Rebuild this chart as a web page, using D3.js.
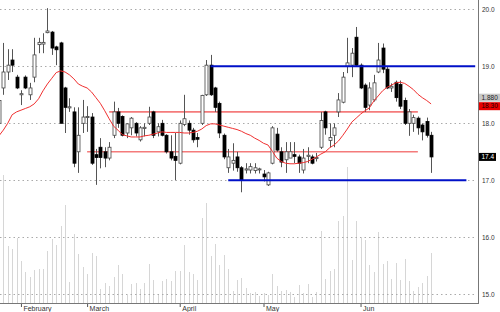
<!DOCTYPE html>
<html>
<head>
<meta charset="utf-8">
<script src="https://cdn.jsdelivr.net/npm/d3@7/dist/d3.min.js"></script>
<style>
  body { margin: 0; background: #fff; }
  svg { display: block; font-family: "Liberation Sans", Arial, sans-serif; }
</style>
</head>
<body>
<script>
// daily bars, index 0..98 (one per trading day)
var opens  = [18.00,18.62,18.90,19.11,18.81,18.50,18.81,18.50,18.81,19.38,19.39,19.59,19.60,19.34,19.41,18.62,18.27,18.20,17.50,18.00,
              18.10,18.11,17.45,17.58,17.50,17.39,17.79,18.20,18.12,17.83,17.92,18.00,17.71,17.91,18.00,18.20,17.85,18.00,17.79,17.50,
              17.42,17.30,17.98,18.00,17.88,17.75,18.00,18.50,19.02,18.62,18.35,17.79,17.22,17.30,17.41,17.22,17.18,17.18,17.17,17.19,
              17.11,16.92,17.30,17.81,17.50,17.36,17.39,17.45,17.41,17.18,17.42,17.41,17.38,17.58,18.20,17.70,17.79,18.20,18.37,19.00,
              19.02,19.51,19.02,18.67,18.32,18.41,18.90,19.32,18.95,18.62,18.72,18.68,18.40,18.00,18.00,18.09,17.97,18.03,17.79];
var highs  = [18.45,19.41,19.30,19.30,18.85,18.58,18.84,18.71,19.50,19.50,19.58,20.02,19.62,19.36,19.43,18.64,18.44,18.28,18.28,18.41,
              18.30,18.18,17.55,17.74,17.58,17.67,18.38,18.27,18.14,18.00,18.11,18.02,17.95,18.00,18.29,18.22,18.00,18.06,17.81,17.79,
              17.83,18.05,18.50,18.05,17.92,17.83,18.50,19.11,19.20,18.64,18.38,17.82,17.55,17.65,17.50,17.25,17.30,17.30,17.30,17.22,
              17.18,17.15,17.95,17.92,17.58,17.67,17.67,17.67,17.45,17.55,17.58,17.45,17.48,18.20,18.22,18.00,18.00,18.53,18.90,19.50,
              19.32,19.69,19.05,18.70,18.72,18.85,19.41,19.40,19.00,18.70,18.75,18.75,18.45,18.25,18.15,18.12,18.00,18.10,17.85];
var lows   = [17.95,18.50,18.76,18.90,18.60,18.32,18.60,18.41,18.72,19.23,19.23,19.58,19.20,19.02,18.00,17.83,18.20,17.23,17.13,17.83,
              17.85,17.27,16.92,17.21,17.23,17.35,17.74,17.92,17.77,17.74,17.79,17.77,17.68,17.77,17.97,17.74,17.77,17.77,17.47,17.35,
              17.00,17.28,17.95,17.80,17.66,17.58,17.97,18.48,18.48,18.20,17.74,17.37,17.13,17.17,17.15,16.79,17.12,17.12,17.12,17.12,
              16.98,16.90,17.28,17.50,17.23,17.13,17.39,17.30,17.13,17.12,17.30,17.28,17.33,17.55,17.80,17.58,17.58,18.11,18.35,18.88,
              18.81,19.00,18.60,18.20,18.23,18.38,18.88,18.88,18.60,18.55,18.38,18.25,17.97,17.78,17.85,17.80,17.70,17.75,17.13];
var closes = [18.40,18.90,19.02,19.02,18.62,18.52,18.62,18.62,19.20,19.42,19.42,19.62,19.32,19.29,18.00,18.28,18.29,17.30,17.79,18.11,
              18.12,17.30,17.40,17.40,17.39,17.58,18.20,18.00,17.79,17.99,18.09,17.83,17.92,17.93,18.11,17.79,17.94,17.79,17.50,17.39,
              17.35,18.00,18.08,17.88,17.71,17.72,18.49,19.02,18.50,18.28,17.83,17.41,17.41,17.35,17.22,17.00,17.20,17.24,17.22,17.20,
              17.06,17.13,17.92,17.53,17.32,17.50,17.50,17.42,17.30,17.39,17.44,17.30,17.40,18.05,17.92,17.75,17.92,18.41,18.81,19.06,
              19.23,19.02,18.62,18.28,18.62,18.71,19.11,18.95,18.62,18.65,18.45,18.30,18.00,18.20,18.10,17.92,17.85,17.79,17.41];
var volumes = [480,1280,570,540,650,420,310,260,330,340,340,520,640,580,770,980,210,690,490,360,
               290,500,470,140,200,170,260,380,290,80,190,200,140,200,390,230,90,220,240,220,
               320,320,580,310,290,230,850,1000,470,590,380,480,340,120,230,250,150,100,110,70,
               100,80,290,170,120,130,110,60,180,100,190,60,110,720,240,320,340,820,870,1360,
               430,820,650,630,380,310,710,390,420,240,400,230,440,220,120,160,200,270,500];
// moving average as drawn on the chart
var maValues = [17.78,17.88,18.00,18.15,18.20,18.23,18.26,18.29,18.34,18.43,18.57,18.69,18.79,18.89,18.92,18.90,18.85,18.78,18.69,18.65,
                18.62,18.55,18.45,18.35,18.22,18.08,17.95,17.88,17.80,17.78,17.76,17.76,17.76,17.78,17.79,17.81,17.83,17.85,17.84,17.84,
                17.84,17.84,17.83,17.83,17.84,17.86,17.90,17.96,17.99,17.99,17.97,17.95,17.93,17.91,17.89,17.86,17.82,17.79,17.74,17.70,
                17.65,17.62,17.51,17.39,17.33,17.30,17.29,17.29,17.30,17.31,17.33,17.37,17.41,17.46,17.50,17.57,17.62,17.69,17.79,17.90,
                18.02,18.09,18.16,18.22,18.27,18.39,18.48,18.57,18.63,18.67,18.71,18.72,18.70,18.65,18.59,18.51,18.45,18.40,18.34];

var monthNames = ["February", "March", "April", "May", "Jun"];
var monthStarts = [5, 20, 41, 60, 82];
var priceTicks = [15, 16, 17, 18, 19, 20];

// drawn support / resistance levels: [price, from index, to index]
var redLevels = [[18.20, 25, 95], [17.50, 20, 95]];
var blueLevels = [[19.00, 48, 108], [17.00, 52, 106]];

var width = 500, height = 312,
    plotRight = 478, plotBottom = 303;

var x = d3.scaleLinear().domain([0, 98]).range([-1.1, 431.1]);
var y = d3.scaleLinear().domain([15, 20]).range([294.3, 9.3]);
var yVol = d3.scaleLinear().domain([0, 1400]).range([plotBottom, 163]);

var svg = d3.select("body").append("svg")
  .attr("width", width)
  .attr("height", height);

svg.append("clipPath").attr("id", "plot")
  .append("rect").attr("x", 0).attr("y", 0).attr("width", plotRight).attr("height", plotBottom);

var plot = svg.append("g").attr("clip-path", "url(#plot)");

// volume
plot.selectAll("line.vol")
  .data(volumes)
  .enter().append("line")
  .attr("class", "vol")
  .attr("x1", function(d, i) { return Math.round(x(i)) + 0.5; })
  .attr("x2", function(d, i) { return Math.round(x(i)) + 0.5; })
  .attr("y1", yVol(0))
  .attr("y2", function(d) { return yVol(d); })
  .attr("stroke", "#d6d6d6")
  .attr("stroke-width", 1);

// dotted grid
plot.selectAll("line.grid")
  .data(priceTicks)
  .enter().append("line")
  .attr("class", "grid")
  .attr("x1", 0).attr("x2", plotRight - 2)
  .attr("y1", function(d) { return Math.round(y(d)) + 0.5; })
  .attr("y2", function(d) { return Math.round(y(d)) + 0.5; })
  .attr("stroke", "#aaa")
  .attr("stroke-dasharray", "1.5,3");

// red levels
plot.selectAll("line.red")
  .data(redLevels)
  .enter().append("line")
  .attr("x1", function(d) { return x(d[1]); })
  .attr("x2", function(d) { return x(d[2]); })
  .attr("y1", function(d) { return y(d[0]); })
  .attr("y2", function(d) { return y(d[0]); })
  .attr("stroke", "#f26464")
  .attr("stroke-opacity", 0.85)
  .attr("stroke-width", 1.6);

// candles
var candles = plot.selectAll("g.candle")
  .data(opens)
  .enter().append("g")
  .attr("class", "candle");

candles.append("line")
  .attr("x1", function(d, i) { return Math.round(x(i)) + 0.5; })
  .attr("x2", function(d, i) { return Math.round(x(i)) + 0.5; })
  .attr("y1", function(d, i) { return y(highs[i]); })
  .attr("y2", function(d, i) { return y(lows[i]); })
  .attr("stroke", "#555")
  .attr("stroke-width", 1);

candles.append("rect")
  .attr("x", function(d, i) { return Math.round(x(i)) - 1; })
  .attr("width", 3)
  .attr("y", function(d, i) { return y(Math.max(opens[i], closes[i])); })
  .attr("height", function(d, i) { return Math.max(1, Math.abs(y(opens[i]) - y(closes[i]))); })
  .attr("fill", function(d, i) { return closes[i] >= opens[i] ? "#fff" : "#000"; })
  .attr("stroke", function(d, i) { return closes[i] >= opens[i] ? "#444" : "#000"; })
  .attr("stroke-width", 0.8);

// moving average
var maLine = d3.line()
  .x(function(d, i) { return x(i); })
  .y(function(d) { return y(d); });

plot.append("path")
  .datum(maValues)
  .attr("d", maLine)
  .attr("fill", "none")
  .attr("stroke", "#f03030")
  .attr("stroke-width", 1);

// blue levels
plot.selectAll("line.blue")
  .data(blueLevels)
  .enter().append("line")
  .attr("x1", function(d) { return x(d[1]); })
  .attr("x2", function(d) { return x(d[2]); })
  .attr("y1", function(d) { return y(d[0]); })
  .attr("y2", function(d) { return y(d[0]); })
  .attr("stroke", "#0010c8")
  .attr("stroke-width", 2);

// frame
svg.append("line")
  .attr("x1", plotRight + 0.5).attr("x2", plotRight + 0.5)
  .attr("y1", 0).attr("y2", plotBottom + 1)
  .attr("stroke", "#777");
svg.append("line")
  .attr("x1", 0).attr("x2", plotRight + 1)
  .attr("y1", plotBottom + 0.5).attr("y2", plotBottom + 0.5)
  .attr("stroke", "#777");

// price axis
var yAxis = svg.append("g")
  .attr("transform", "translate(" + (plotRight + 4) + ",0)")
  .call(d3.axisRight(y).tickValues(priceTicks).tickSize(0).tickPadding(0).tickFormat(d3.format(".1f")));
yAxis.select(".domain").remove();
yAxis.selectAll("text").attr("font-size", 6.5).attr("fill", "#333").attr("font-family", "Liberation Sans, Arial, sans-serif");

// month axis
var xAxis = svg.append("g")
  .attr("transform", "translate(0," + (plotBottom + 1) + ")")
  .call(d3.axisBottom(x).tickValues(monthStarts).tickSize(3).tickPadding(0)
    .tickFormat(function(d, i) { return monthNames[i]; }));
xAxis.select(".domain").remove();
xAxis.selectAll("line").attr("stroke", "#555");
xAxis.selectAll("text")
  .attr("text-anchor", "start")
  .attr("dx", 2)
  .attr("y", 0)
  .attr("dy", "0.95em")
  .attr("font-size", 7)
  .attr("fill", "#333")
  .attr("font-family", "Liberation Sans, Arial, sans-serif");

// value tags on the right
var lastClose = closes[closes.length - 1];
var tags = [
  { text: "1.880", price: 18.30, off: -8.5, bg: "#c8c8c8", fg: "#222" },
  { text: "18.30", price: 18.30, off: 0, bg: "#e60000", fg: "#200000" },
  { text: d3.format(".1f")(lastClose), price: lastClose, off: 0, bg: "#000", fg: "#fff" }
];
var tag = svg.selectAll("g.tag")
  .data(tags)
  .enter().append("g")
  .attr("transform", function(d) { return "translate(" + (plotRight + 1) + "," + (y(d.price) + d.off) + ")"; });
tag.append("rect")
  .attr("x", 0).attr("y", -4)
  .attr("width", function(d) { return d.bg == "#000" ? 17 : 21; })
  .attr("height", 8)
  .attr("fill", function(d) { return d.bg; });
tag.append("text")
  .attr("x", 2.5).attr("y", 0).attr("dy", "0.35em")
  .attr("font-size", 6.5)
  .attr("fill", function(d) { return d.fg; })
  .text(function(d) { return d.text; });
</script>
</body>
</html>
